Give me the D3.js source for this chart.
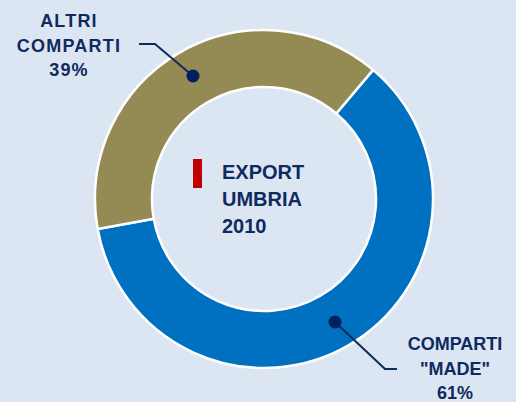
<!DOCTYPE html>
<html><head><meta charset="utf-8">
<script src="https://cdn.jsdelivr.net/npm/d3@7"></script>
<style>
html,body{margin:0;padding:0;background:#DCE6F2;}
svg{display:block;}
</style></head>
<body>
<div id="chart"></div>
<script>
const categories = ["COMPARTI \"MADE\"", "ALTRI COMPARTI"];
const values = [61, 39];
const labelLines = [["COMPARTI", "\"MADE\"", "61%"], ["ALTRI", "COMPARTI", "39%"]];
const colors = ["#0070C0", "#948A54"];
const titleLines = ["EXPORT", "UMBRIA", "2010"];

const W = 516, H = 402;
const cx = 264, cy = 199, R = 169, r = 112;
const svg = d3.select("#chart").append("svg").attr("width", W).attr("height", H);
svg.append("rect").attr("width", W).attr("height", H).attr("fill", "#DCE6F2");

const start = 40.2 * Math.PI / 180;
const pie = d3.pie().sort(null).value(d => d).startAngle(start).endAngle(start + 2 * Math.PI);
const arcs = pie(values);
const arc = d3.arc().innerRadius(r).outerRadius(R);
const g = svg.append("g").attr("transform", `translate(${cx},${cy})`);
g.selectAll("path.slice").data(arcs).join("path")
  .attr("class", "slice")
  .attr("d", arc)
  .attr("fill", (d, i) => colors[i])
  .attr("stroke", "#fff").attr("stroke-width", 2.5).attr("stroke-linejoin", "round");

const navy = "#0F2A5E";
const dotArc = d3.arc().innerRadius(142).outerRadius(142);
const leaders = [
  { elbow: [385, 369], end: [397, 369], tx: 455, ty: 350, ls: 0 },
  { elbow: [155, 44], end: [139, 44], tx: 69, ty: 27, ls: 1.2 }
];
arcs.forEach((d, i) => {
  const L = leaders[i];
  const c = dotArc.centroid(d);
  const p = [cx + c[0], cy + c[1]];
  svg.append("polyline")
    .attr("points", [p, L.elbow, L.end].map(q => q.join(",")).join(" "))
    .attr("fill", "none").attr("stroke", navy).attr("stroke-width", 2);
  svg.append("circle").attr("cx", p[0]).attr("cy", p[1]).attr("r", 6.5).attr("fill", "#002060");
  const t = svg.append("text").attr("x", L.tx).attr("y", L.ty)
    .attr("text-anchor", "middle")
    .attr("font-family", "Liberation Sans, Arial, sans-serif")
    .attr("font-weight", "bold").attr("font-size", 18)
    .attr("letter-spacing", L.ls)
    .attr("fill", navy);
  labelLines[i].forEach((s, k) => {
    t.append("tspan").attr("x", L.tx).attr("y", L.ty + k * 24.5).text(s);
  });
});

// center title
svg.append("rect").attr("x", 193).attr("y", 159).attr("width", 9).attr("height", 29).attr("fill", "#C00000");
const tt = svg.append("text")
  .attr("font-family", "Liberation Sans, Arial, sans-serif")
  .attr("font-weight", "bold").attr("font-size", 20).attr("fill", "#0F2A5E");
titleLines.forEach((s, k) => {
  tt.append("tspan").attr("x", 222).attr("y", 179 + k * 27).text(s);
});
</script>
</body></html>
